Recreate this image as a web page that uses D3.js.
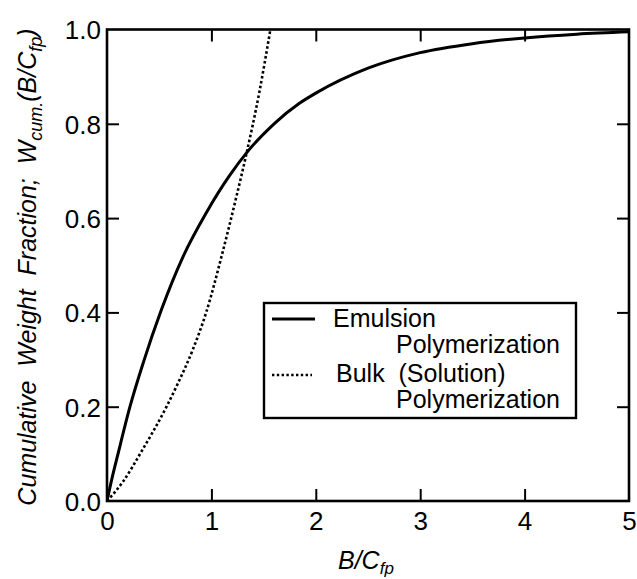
<!DOCTYPE html>
<html>
<head>
<meta charset="utf-8">
<script src="https://cdn.jsdelivr.net/npm/d3@7"></script>
<style>
  body { margin: 0; background: #fff; }
  text { font-family: "Liberation Sans", Arial, Helvetica, sans-serif; fill: #000; }
</style>
</head>
<body>
<div id="chart_root"></div>
<script>
const widthValue = 637;
const heightValue = 579;
const pad = { left: 107, right: 8, top: 29.5, bottom: 78 };

// values
const emulsionX = [0, 0.05, 0.1, 0.22, 0.35, 0.52, 0.73, 0.95, 1.17, 1.35, 1.6, 1.84, 2.0, 2.5, 3.0, 3.5, 4.0, 4.5, 5.0];
const emulsionY = [0, 0.05, 0.095, 0.2, 0.295, 0.405, 0.519, 0.611, 0.689, 0.742, 0.8, 0.843, 0.865, 0.918, 0.951, 0.97, 0.982, 0.99, 0.995];

const bulkX = [0, 0.15, 0.33, 0.57, 0.68, 0.82, 0.95, 1.11, 1.24, 1.33, 1.46, 1.565];
const bulkY = [0, 0.04, 0.105, 0.2, 0.25, 0.32, 0.4, 0.53, 0.646, 0.731, 0.868, 1.0];

const xTicks = [0, 1, 2, 3, 4, 5];
const yTicks = [0, 0.2, 0.4, 0.6, 0.8, 1.0];

const legendLabels = [["Emulsion", "Polymerization"], ["Bulk  (Solution)", "Polymerization"]];

const svg = d3
  .select("#chart_root")
  .append("svg")
  .attr("width", widthValue)
  .attr("height", heightValue);

const x0 = pad.left, x1 = widthValue - pad.right;
const y0 = heightValue - pad.bottom, y1 = pad.top;

// scales
const xScale = d3.scaleLinear().domain([0, 5]).range([x0, x1]);
const yScale = d3.scaleLinear().domain([0, 1]).range([y0, y1]);

const tickLen = 12;

// bottom axis with inward ticks
const xAxis = svg
  .append("g")
  .attr("transform", "translate(0," + y0 + ")")
  .call(d3.axisBottom(xScale).tickValues(xTicks).tickSizeInner(-tickLen).tickSizeOuter(0).tickPadding(11).tickFormat(d3.format("d")));
// top axis, ticks only
svg
  .append("g")
  .attr("transform", "translate(0," + y1 + ")")
  .call(d3.axisTop(xScale).tickValues(xTicks.slice(1, -1)).tickSizeInner(-tickLen).tickSizeOuter(0).tickFormat(""));
// left axis
const yAxis = svg
  .append("g")
  .attr("transform", "translate(" + x0 + ",0)")
  .call(d3.axisLeft(yScale).tickValues(yTicks).tickSizeInner(-tickLen).tickSizeOuter(0).tickPadding(6).tickFormat(d3.format(".1f")));
// right axis, ticks only
svg
  .append("g")
  .attr("transform", "translate(" + x1 + ",0)")
  .call(d3.axisRight(yScale).tickValues(yTicks.slice(1, -1)).tickSizeInner(-tickLen).tickSizeOuter(0).tickFormat(""));

svg.selectAll(".domain").remove();
svg.selectAll(".tick line").attr("stroke", "#000").attr("stroke-width", 2);
// no tick marks at the corners
xAxis.selectAll(".tick").filter((d) => d === 0 || d === 5).select("line").remove();
yAxis.selectAll(".tick").filter((d) => d === 0 || d === 1).select("line").remove();
svg.selectAll(".tick text").style("font-size", "26px").attr("fill", "#000");
yAxis.selectAll(".tick text").attr("dy", "0.36em");

// frame
svg
  .append("rect")
  .attr("x", x0)
  .attr("y", y1)
  .attr("width", x1 - x0)
  .attr("height", y0 - y1)
  .attr("fill", "none")
  .attr("stroke", "#000")
  .attr("stroke-width", 2.6);

// curves
const clip = svg
  .append("defs")
  .append("clipPath")
  .attr("id", "clip")
  .append("rect")
  .attr("x", x0)
  .attr("y", y1)
  .attr("width", x1 - x0)
  .attr("height", y0 - y1);

const line = d3
  .line()
  .x((d) => xScale(d[0]))
  .y((d) => yScale(d[1]))
  .curve(d3.curveMonotoneX);

const plot = svg.append("g").attr("clip-path", "url(#clip)");

plot
  .append("path")
  .datum(d3.zip(bulkX, bulkY))
  .attr("fill", "none")
  .attr("stroke", "#000")
  .attr("stroke-width", 2.6)
  .attr("stroke-dasharray", "2.6,2.4")
  .attr("d", line);

plot
  .append("path")
  .datum(d3.zip(emulsionX, emulsionY))
  .attr("fill", "none")
  .attr("stroke", "#000")
  .attr("stroke-width", 3)
  .attr("d", line);

// legend
const legend = svg.append("g");
legend
  .append("rect")
  .attr("x", 264)
  .attr("y", 303)
  .attr("width", 312)
  .attr("height", 115)
  .attr("fill", "#fff")
  .attr("stroke", "#000")
  .attr("stroke-width", 2.4);

legend.append("line")
  .attr("x1", 272).attr("x2", 315).attr("y1", 319).attr("y2", 319)
  .attr("stroke", "#000").attr("stroke-width", 3);
legend.append("line")
  .attr("x1", 272).attr("x2", 312).attr("y1", 375).attr("y2", 375)
  .attr("stroke", "#000").attr("stroke-width", 2.4).attr("stroke-dasharray", "2.4,2.4");

const legendFont = "25px";
legend.append("text").attr("x", 333).attr("y", 327).style("font-size", legendFont).style("white-space", "pre").text(legendLabels[0][0]);
legend.append("text").attr("x", 396).attr("y", 353).style("font-size", legendFont).text(legendLabels[0][1]);
legend.append("text").attr("x", 336).attr("y", 382).style("font-size", legendFont).style("white-space", "pre").text(legendLabels[1][0]);
legend.append("text").attr("x", 396).attr("y", 408).style("font-size", legendFont).text(legendLabels[1][1]);

// x axis title
const xt = svg
  .append("text")
  .attr("x", 338)
  .attr("y", 569)
  .style("font-size", "25px")
  .style("font-style", "italic");
xt.append("tspan").text("B/C");
xt.append("tspan").attr("dy", 5).style("font-size", "17px").text("fp");

// y axis title
const yt = svg
  .append("text")
  .attr("transform", "translate(36,267) rotate(-90)")
  .attr("text-anchor", "middle")
  .style("font-size", "25px")
  .style("font-style", "italic")
  .style("white-space", "pre");
yt.append("tspan").text("Cumulative  Weight  Fraction;  W");
yt.append("tspan").attr("dy", 6).style("font-size", "18px").text("cum.");
yt.append("tspan").attr("dy", -6).text("(B/C");
yt.append("tspan").attr("dy", 6).style("font-size", "18px").text("fp");
yt.append("tspan").attr("dy", -6).text(")");
</script>
</body>
</html>
